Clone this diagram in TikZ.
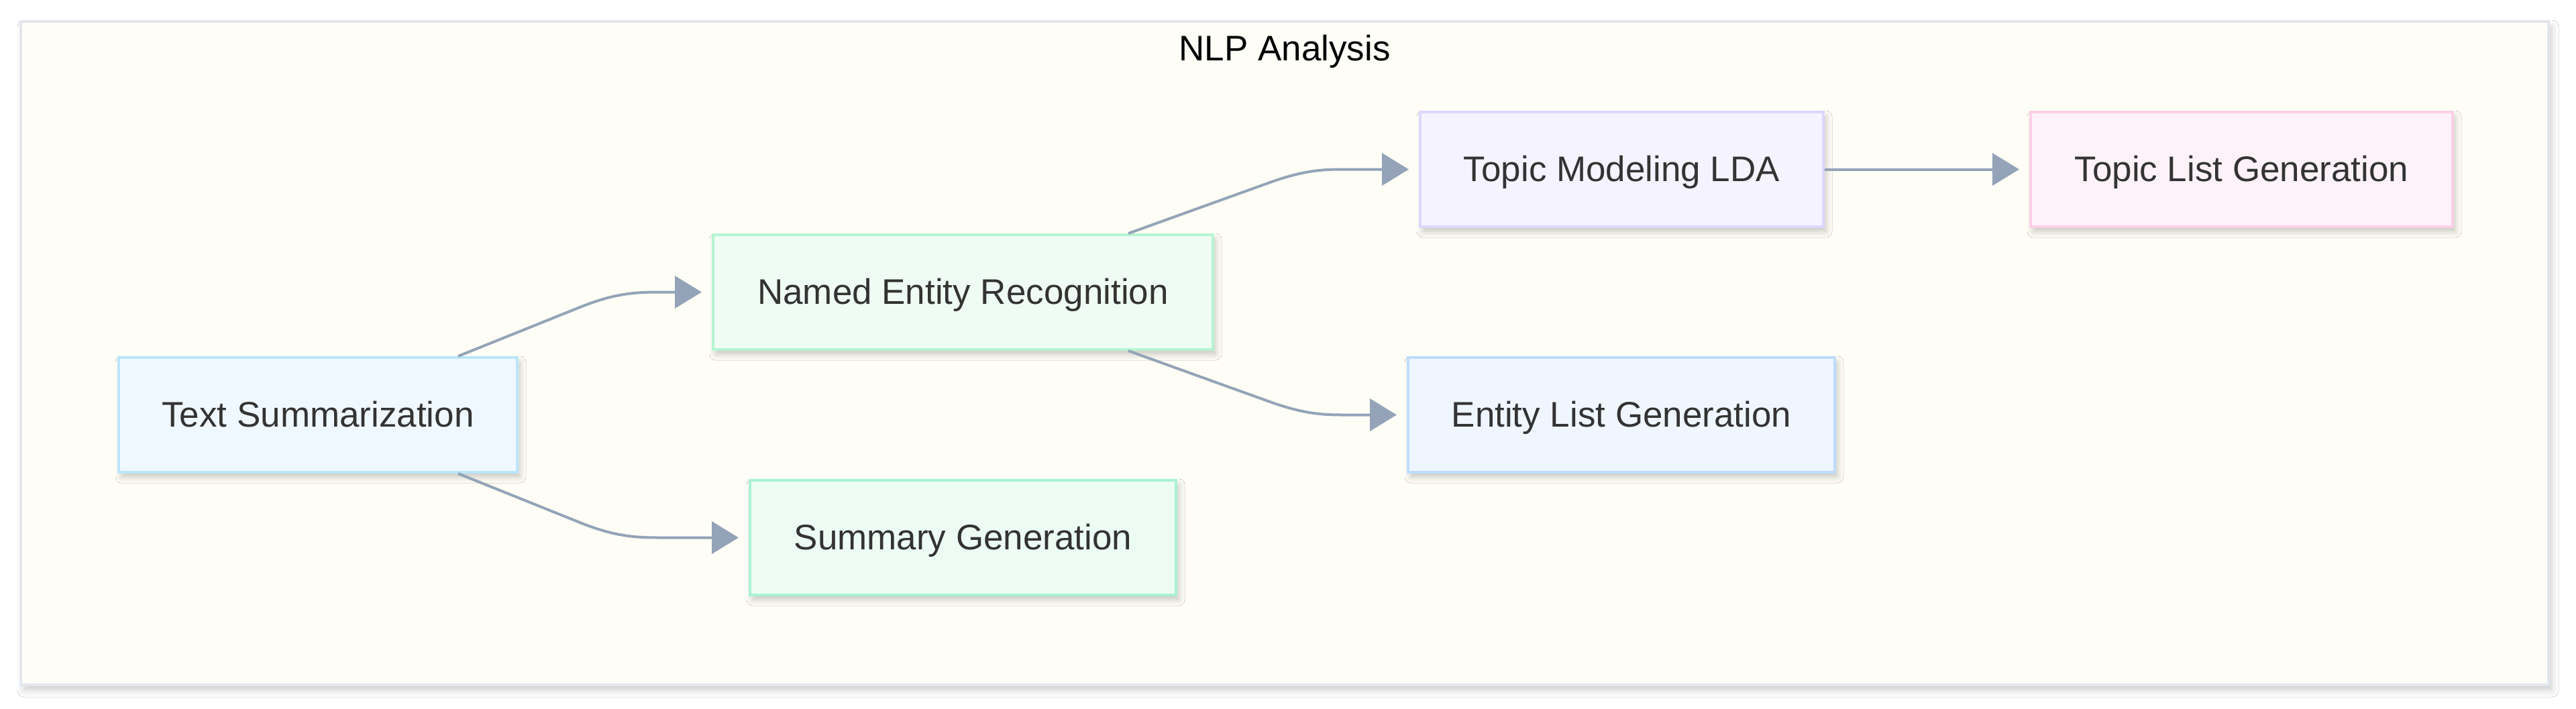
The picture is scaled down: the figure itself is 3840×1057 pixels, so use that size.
\documentclass[tikz,border=0pt]{standalone}
\usepackage{fontspec}
\setmainfont{Liberation Sans}
\usetikzlibrary{arrows.meta,shadows.blur}
\definecolor{edgec}{HTML}{94A3B8}
\definecolor{txt}{HTML}{333333}
\definecolor{framefill}{HTML}{FEFEF6}
\definecolor{framedraw}{HTML}{E2E6EE}
\definecolor{tsfill}{HTML}{F0F8FF}
\definecolor{tsdraw}{HTML}{BAE6FD}
\definecolor{nerfill}{HTML}{EFFCF4}
\definecolor{nerdraw}{HTML}{B6F4D2}
\definecolor{sgfill}{HTML}{ECFCF4}
\definecolor{sgdraw}{HTML}{A9F2D2}
\definecolor{tmfill}{HTML}{F5F3FF}
\definecolor{tmdraw}{HTML}{DDD6FE}
\definecolor{elgfill}{HTML}{EFF6FF}
\definecolor{elgdraw}{HTML}{BFDBFE}
\definecolor{tlgfill}{HTML}{FDF2F8}
\definecolor{tlgdraw}{HTML}{FBCFE8}
\begin{document}
\begin{tikzpicture}[x=1pt,y=-1pt,
  box/.style={draw, line width=4pt, rectangle, minimum height=171pt, inner sep=0pt,
    text=txt, font=\fontsize{53pt}{64pt}\selectfont, text height=38pt, text depth=2pt,
    blur shadow={shadow xshift=4pt, shadow yshift=-7pt, shadow blur radius=9pt, shadow opacity=22}},
  edge/.style={draw=edgec, line width=4pt, -{Triangle[length=40pt,width=48pt]}},
]
\path[use as bounding box, fill=white] (0,0) rectangle (3840,1057);

\node[draw=framedraw, fill=framefill, line width=4pt, minimum width=3768pt, minimum height=989pt,
  inner sep=0pt, blur shadow={shadow xshift=5pt, shadow yshift=-8pt, shadow blur radius=10pt, shadow opacity=20}]
  (nlp) at (1915,526.5) {};
\node[font=\fontsize{53pt}{64pt}\selectfont, text=black, anchor=base, inner sep=0pt] (title) at (1915,90) {NLP Analysis};

\node[box, fill=tsfill, draw=tsdraw, minimum width=594pt] (ts) at (474,618.5) {Text Summarization};
\node[box, fill=nerfill, draw=nerdraw, minimum width=745pt] (ner) at (1435.5,435.5) {Named Entity Recognition};
\node[box, fill=sgfill, draw=sgdraw, minimum width=635pt] (sg) at (1435.5,801.5) {Summary Generation};
\node[box, fill=tmfill, draw=tmdraw, minimum width=601pt] (tm) at (2417.5,252.5) {Topic Modeling LDA};
\node[box, fill=elgfill, draw=elgdraw, minimum width=636pt] (elg) at (2417,618.5) {Entity List Generation};
\node[box, fill=tlgfill, draw=tlgdraw, minimum width=629pt] (tlg) at (3341.5,252.5) {Topic List Generation};

\draw[edge] ([xshift=209pt]ts.north) -- (867,457) .. controls (915,438) and (945,435.5) .. (983,435.5) -- ([xshift=-15pt]ner.west);
\draw[edge] ([xshift=209pt]ts.south) -- (867,780) .. controls (915,799) and (945,801.5) .. (983,801.5) -- ([xshift=-15pt]sg.west);
\draw[edge] ([xshift=246.5pt]ner.north) -- (1893,272) .. controls (1938,256) and (1965,252.5) .. (2000,252.5) -- ([xshift=-15pt]tm.west);
\draw[edge] ([xshift=246.5pt]ner.south) -- (1893,599) .. controls (1938,615) and (1965,618.5) .. (2000,618.5) -- ([xshift=-15pt]elg.west);
\draw[edge] (tm.east) -- ([xshift=-15pt]tlg.west);
\end{tikzpicture}
\end{document}
